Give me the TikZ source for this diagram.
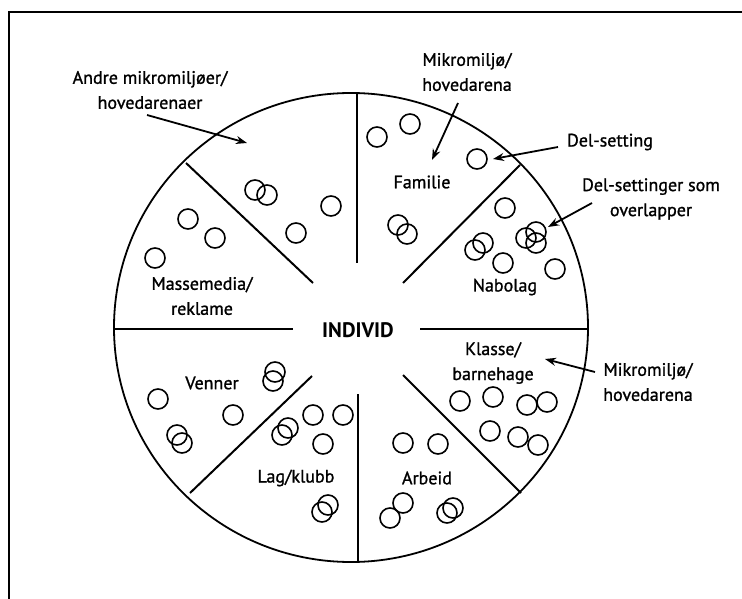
\documentclass[tikz,border=0pt]{standalone}
\usepackage{fontspec}
\setmainfont{PT Sans}
\newfontfamily\medfont{PT Sans}[BoldFont={PT Sans}, BoldFeatures={FakeBold=1.2}]
\usetikzlibrary{arrows.meta}
\begin{document}
\begin{tikzpicture}[x=1pt,y=-1pt,
  lbl/.style={font=\medfont\bfseries\fontsize{18}{25}\selectfont, align=center, inner sep=0pt},
  ring/.style={line width=1.8pt},
  spoke/.style={line width=2pt},
  arr/.style={line width=1.8pt, -{Stealth[length=11pt,width=8pt]}},
  sm/.style={line width=1.6pt}]
\useasboundingbox (0,0) rectangle (742,599);
% frame
\draw[line width=2.5pt] (9,599) -- (9,12) -- (742,12);
% big circle
\draw[ring] (351,327.5) ellipse [x radius=237pt, y radius=234.5pt];
% spokes
\draw[spoke] (357,93) -- (357,263);
\draw[spoke] (358,394) -- (358,562);
\draw[spoke] (113,329) -- (293,329);
\draw[spoke] (420,329) -- (588,329);
\draw[spoke] (186,163) -- (313,283);
\draw[spoke] (520,165) -- (403,283);
\draw[spoke] (190,493) -- (312,376);
\draw[spoke] (403,375) -- (521,493);
% small circles
\foreach \x/\y in {255/190,267/195,331/206,296/233,188/219,215/238,155/258,
  377/137,410/124,477/159,398/225,407/234,505/208,475/250,483/243,
  526/238,536/232,536/243,503/263,555/269,
  158/399,275/372,273/381,233/415,177/435,182/443,282/435,288/428,
  313/415,343/415,323/444,322/512,328/505,
  460/401,493/397,527/405,547/402,490/431,518/437,538/445,
  403/443,438/444,403/503,390/518,447/513,453/508}
  \draw[sm] (\x,\y) circle [radius=10pt];
% labels inside
\node[lbl, font=\fontsize{21}{25}\selectfont\bfseries] (individ) at (358,330) {INDIVID};
\node[lbl] (familie) at (422,182) {Familie};
\node[lbl] (nabolag) at (505,287) {Nabolag};
\node[lbl] (masse) at (202,296) {Massemedia/\\reklame};
\node[lbl] (venner) at (212,383) {Venner};
\node[lbl] (lag) at (296,478) {Lag/klubb};
\node[lbl] (arbeid) at (427,478) {Arbeid};
\node[lbl] (klasse) at (493,363) {Klasse/\\barnehage};
% labels outside
\node[lbl] (andre) at (150,90) {Andre mikromiljøer/\\hovedarenaer};
\node[lbl] (mikro1) at (467,72) {Mikromiljø/\\hovedarena};
\node[lbl] (delset) at (610,142) {Del-setting};
\node[lbl] (delover) at (651,199) {Del-settinger som\\overlapper};
\node[lbl] (mikro2) at (648,382) {Mikromiljø/\\hovedarena};
% arrow end points
\coordinate (a1s) at (147,115); \coordinate (a1e) at (247,143);
\coordinate (a2s) at (458,103); \coordinate (a2e) at (432,160);
\coordinate (a3s) at (558,147); \coordinate (a3e) at (493,159);
\coordinate (a4s) at (592,203); \coordinate (a4e) at (548,227);
\coordinate (a5s) at (595,372); \coordinate (a5e) at (545,359);
\draw[arr] (a1s) -- (a1e);
\draw[arr] (a2s) -- (a2e);
\draw[arr] (a3s) -- (a3e);
\draw[arr] (a4s) -- (a4e);
\draw[arr] (a5s) -- (a5e);
\end{tikzpicture}
\end{document}
